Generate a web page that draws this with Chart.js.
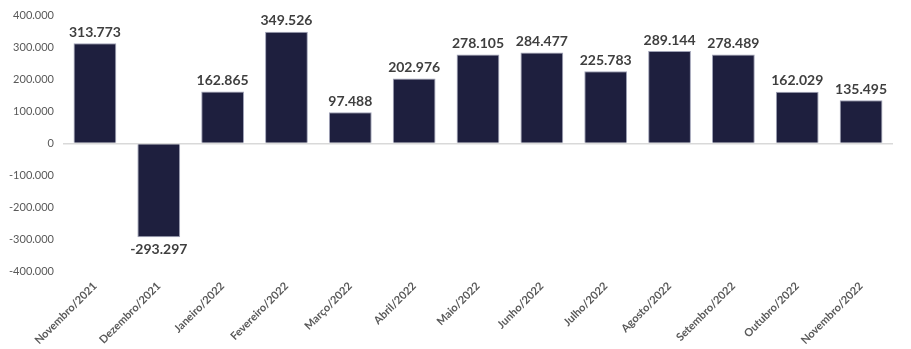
<!DOCTYPE html>
<html>
<head>
<meta charset="utf-8">
<script src="https://cdn.jsdelivr.net/npm/chart.js@4/dist/chart.umd.min.js"></script>
<style>
  html, body { margin: 0; padding: 0; background: #fff; }
  #wrap { width: 911px; height: 349px; }
</style>
</head>
<body>
<div id="wrap"><canvas id="saldoChart"></canvas></div>
<script>
const months = ['Novembro/2021', 'Dezembro/2021', 'Janeiro/2022', 'Fevereiro/2022', 'Março/2022', 'Abril/2022',
  'Maio/2022', 'Junho/2022', 'Julho/2022', 'Agosto/2022', 'Setembro/2022', 'Outubro/2022', 'Novembro/2022']
const saldo = [313773, -293297, 162865, 349526, 97488, 202976, 278105, 284477, 225783, 289144, 278489, 162029, 135495]
const yTicks = [-400000, -300000, -200000, -100000, 0, 100000, 200000, 300000, 400000]

// pt-BR style thousands: 313.773
function fmt(v) {
  return v.toLocaleString('pt-BR')
}

// value labels above positive bars and below negative ones
const valueLabels = {
  id: 'valueLabels',
  afterDatasetsDraw(chart) {
    const ctx = chart.ctx
    const meta = chart.getDatasetMeta(0)
    ctx.save()
    ctx.font = 'bold 14px Lato'
    ctx.fillStyle = '#3f3f3f'
    ctx.textAlign = 'center'
    meta.data.forEach((bar, i) => {
      const v = saldo[i]
      if (v >= 0) {
        ctx.textBaseline = 'bottom'
        ctx.fillText(fmt(v), bar.x, bar.y - 4)
      } else {
        ctx.textBaseline = 'top'
        ctx.fillText(fmt(v), bar.x, bar.y + 5)
      }
    })
    ctx.restore()
  }
}

const ctx = document.getElementById('saldoChart')
new Chart(ctx, {
  type: 'bar',
  data: {
    labels: months,
    datasets: [{
      data: saldo,
      backgroundColor: '#1e1f3e',
      borderColor: '#9fa2b6',
      borderWidth: 1,
      categoryPercentage: 1,
      barPercentage: 0.67
    }]
  },
  options: {
    responsive: true,
    maintainAspectRatio: false,
    animation: false,
    layout: { padding: { top: 11, right: 18, left: 0, bottom: 2 } },
    plugins: {
      legend: { display: false },
      tooltip: { enabled: false }
    },
    scales: {
      x: {
        grid: { display: false },
        border: { display: false },
        ticks: {
          minRotation: 45,
          maxRotation: 45,
          color: '#595959',
          font: { family: 'Lato', size: 11, weight: 'bold' },
          padding: 0
        }
      },
      y: {
        min: -400000,
        max: 400000,
        afterBuildTicks(axis) {
          axis.ticks = yTicks.map(v => ({ value: v }))
        },
        afterFit(axis) {
          axis.width = 63
        },
        border: { display: false },
        grid: {
          drawTicks: false,
          color: c => c.tick && c.tick.value === 0 ? '#d9d9d9' : 'transparent',
          lineWidth: 1.5
        },
        ticks: {
          color: '#595959',
          font: { family: 'Lato', size: 11 },
          padding: 9,
          callback: v => fmt(v)
        }
      }
    }
  },
  plugins: [valueLabels]
})
</script>
</body>
</html>
